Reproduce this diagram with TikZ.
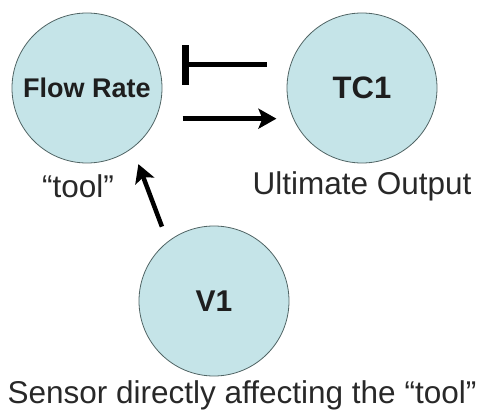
\documentclass[tikz,border=0pt]{standalone}
\usepackage{fontspec}
\setmainfont{Liberation Sans}
\usetikzlibrary{arrows.meta}
\definecolor{cfill}{RGB}{197,228,232}
\definecolor{cedge}{RGB}{80,100,100}
\definecolor{ctext}{RGB}{30,30,30}
\definecolor{clab}{RGB}{40,40,40}
\tikzset{
  bubble/.style={circle, draw=cedge, line width=0.8pt, fill=cfill, minimum size=150pt, inner sep=0pt, text=ctext, font=\bfseries},
  lab/.style={text=clab, inner sep=0pt, font=\fontsize{31.5}{36}\selectfont},
  conn/.style={line width=4.5pt, draw=black},
  act/.style={conn, -{Stealth[length=18pt, width=20pt, inset=4pt]}},
  inh/.style={conn, -{Bar[width=40pt, line width=7pt]}}
}
\begin{document}
\begin{tikzpicture}[x=1pt, y=-1pt]
\useasboundingbox (0,0) rectangle (481,419);
\node[bubble, font=\bfseries\fontsize{27}{30}\selectfont] (fr) at (87,88) {Flow Rate};
\node[bubble, font=\bfseries\fontsize{31}{34}\selectfont] (tc) at (362,88) {TC1};
\node[bubble, font=\bfseries\fontsize{30}{34}\selectfont] (v1) at (214,301) {V1};
\node[lab] (ltool) at (78,186) {“tool”};
\node[lab] (lult) at (362,186) {Ultimate Output};
\node[lab] (lsens) at (242,395) {Sensor directly affecting the “tool”};
\draw[inh, shorten <=23.6pt, shorten >=23pt] (tc.162) -- (fr.18);
\draw[act, shorten <=26.7pt, shorten >=16.7pt] (fr.-24.4) -- (tc.204.4);
\draw[act, shorten <=16pt, shorten >=17pt] (v1.128) -- (fr.-53);
\end{tikzpicture}
\end{document}
